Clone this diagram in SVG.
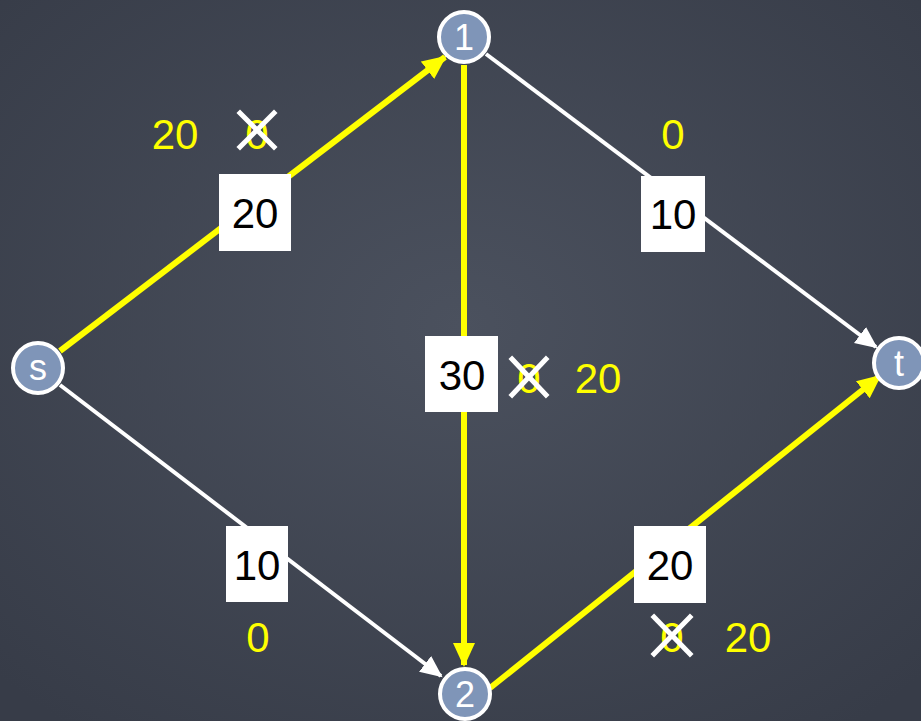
<svg xmlns="http://www.w3.org/2000/svg" width="921" height="721" viewBox="0 0 921 721">
<defs>
<radialGradient id="bg" cx="50%" cy="45%" r="70%">
<stop offset="0" stop-color="#4b515e"/>
<stop offset="1" stop-color="#373c48"/>
</radialGradient>
<marker id="ay" markerUnits="userSpaceOnUse" markerWidth="26" markerHeight="24" refX="22" refY="12" orient="auto">
<path d="M0,1 L24,12 L0,23 Z" fill="#ffff00"/>
</marker>
<marker id="aw" markerUnits="userSpaceOnUse" markerWidth="24" markerHeight="22" refX="20" refY="11" orient="auto">
<path d="M0,1 L22,11 L0,21 Z" fill="#ffffff"/>
</marker>
</defs>
<style>
.ey{stroke:#ffff00;stroke-width:6;fill:none}
.ew{stroke:#ffffff;stroke-width:4;fill:none}
.node circle{fill:#7f95b8;stroke:#ffffff;stroke-width:4}
.node text{fill:#ffffff;font-family:"Liberation Sans",Arial,sans-serif;font-size:36px;text-anchor:middle}
.box{fill:#ffffff}
.bt{fill:#000000;font-family:"Liberation Sans",Arial,sans-serif;font-size:42px;text-anchor:middle}
.yt{fill:#ffff00;font-family:"Liberation Sans",Arial,sans-serif;font-size:42px;text-anchor:middle}
.x{stroke:#ffffff;stroke-width:5;stroke-linecap:square}
</style>
<rect width="921" height="721" fill="url(#bg)"/>
<g id="connectors">
<line class="ew" x1="486" y1="54" x2="876" y2="347" marker-end="url(#aw)"/>
<line class="ew" x1="60" y1="385" x2="441" y2="676" marker-end="url(#aw)"/>
<line class="ey" x1="60" y1="351" x2="445" y2="57" marker-end="url(#ay)"/>
<line class="ey" x1="464" y1="65" x2="464" y2="665" marker-end="url(#ay)"/>
<line class="ey" x1="490" y1="688" x2="880" y2="376" marker-end="url(#ay)"/>
</g>
<g id="node-1" class="node"><circle cx="464" cy="37" r="25"/><text x="464" y="50">1</text></g>
<g id="node-s" class="node"><circle cx="38" cy="368" r="25"/><text x="38" y="380">s</text></g>
<g id="node-t" class="node"><circle cx="899" cy="363" r="25"/><text x="899" y="376">t</text></g>
<g id="node-2" class="node"><circle cx="465" cy="694" r="25"/><text x="465" y="707">2</text></g>
<g id="label-s1">
<rect class="box" x="219" y="174" width="72" height="77"/>
<text class="bt" x="255" y="228">20</text>
<text class="yt" x="175" y="149">20</text>
<text class="yt" x="257" y="149">0</text>
<line class="x" x1="240" y1="113" x2="274" y2="147"/><line class="x" x1="274" y1="113" x2="240" y2="147"/>
</g>
<g id="label-1t">
<rect class="box" x="641" y="176" width="64" height="76"/>
<text class="bt" x="673" y="229">10</text>
<text class="yt" x="673" y="149">0</text>
</g>
<g id="label-12">
<rect class="box" x="425" y="336" width="73" height="76"/>
<text class="bt" x="462" y="390">30</text>
<text class="yt" x="529" y="393">0</text>
<line class="x" x1="512" y1="359" x2="546" y2="395"/><line class="x" x1="546" y1="359" x2="512" y2="395"/>
<text class="yt" x="598" y="393">20</text>
</g>
<g id="label-s2">
<rect class="box" x="226" y="526" width="62" height="76"/>
<text class="bt" x="257" y="580">10</text>
<text class="yt" x="258" y="652">0</text>
</g>
<g id="label-2t">
<rect class="box" x="634" y="526" width="72" height="77"/>
<text class="bt" x="670" y="580">20</text>
<text class="yt" x="672" y="652">0</text>
<line class="x" x1="654" y1="617" x2="690" y2="654"/><line class="x" x1="690" y1="617" x2="654" y2="654"/>
<text class="yt" x="748" y="652">20</text>
</g>
</svg>
